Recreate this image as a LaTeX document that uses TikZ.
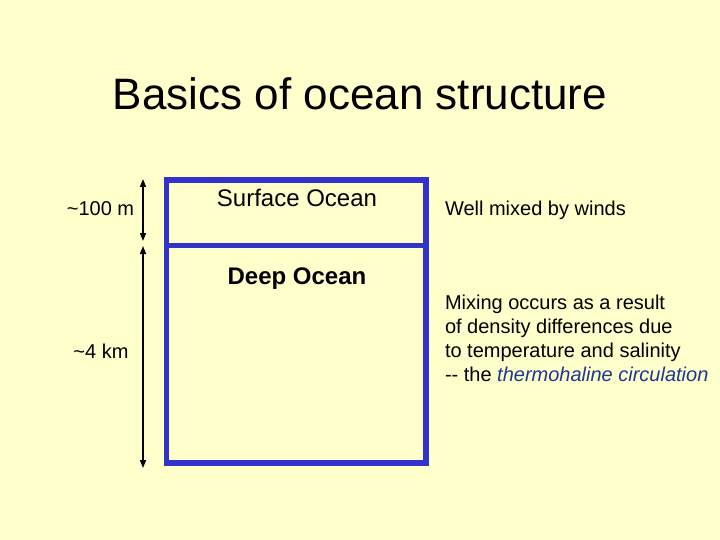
\documentclass[tikz,border=0pt]{standalone}
\usepackage{fontspec}
\setmainfont{Liberation Sans}
\usetikzlibrary{arrows.meta}
\definecolor{bgyellow}{RGB}{255,255,204}
\definecolor{boxblue}{RGB}{51,51,204}
\definecolor{termblue}{RGB}{30,55,150}
\begin{document}
\begin{tikzpicture}[x=1pt,y=-1pt,
  txt/.style={inner sep=0pt,outer sep=0pt,font=\fontsize{20}{24}\selectfont},
  ttl/.style={inner sep=0pt,font=\fontsize{44}{52}\selectfont},
  big/.style={inner sep=0pt,font=\fontsize{24}{28}\selectfont},
  boxline/.style={draw=boxblue,line width=5.5pt},
  dimarrow/.style={line width=1.5pt,{Triangle[width=6pt,length=8pt]}-{Triangle[width=6pt,length=8pt]}}]
\fill[bgyellow] (0,0) rectangle (720,540);
\useasboundingbox (0,0) rectangle (720,540);
% title
\node[ttl,anchor=base] (title) at (360,110) {Basics of ocean structure};
% box
\coordinate (tl) at (166.5,180);
\coordinate (br) at (426,463);
\coordinate (dl) at (166.5,245.5);
\coordinate (dr) at (426,245.5);
\draw[boxline] (tl) rectangle (br);
\draw[boxline] (dl) -- (dr);
% labels in box
\node[big,anchor=base] (surf) at (297,207) {Surface Ocean};
\node[big,anchor=base,font=\fontsize{24}{28}\selectfont\bfseries] (deep) at (297,284) {Deep Ocean};
% arrows
\coordinate (a1t) at (143,179);
\coordinate (a1b) at (143,241);
\coordinate (a2t) at (143,246);
\coordinate (a2b) at (143,468);
\draw[dimarrow] (a1t) -- (a1b);
\draw[dimarrow] (a2t) -- (a2b);
\node[txt,anchor=base] (d1) at (100.5,215) {\textasciitilde100 m};
\node[txt,anchor=base] (d2) at (101,358) {\textasciitilde4 km};
% right texts
\node[txt,anchor=base west] (wm) at (445,215) {Well mixed by winds};
\node[txt,anchor=base west] (m1) at (445,309) {Mixing occurs as a result};
\node[txt,anchor=base west] (m2) at (445,333) {of density differences due};
\node[txt,anchor=base west] (m3) at (445,357) {to temperature and salinity};
\node[txt,anchor=base west] (m4) at (445,381) {-{}- the \textcolor{termblue}{\itshape thermohaline circulation}};
\end{tikzpicture}
\end{document}
